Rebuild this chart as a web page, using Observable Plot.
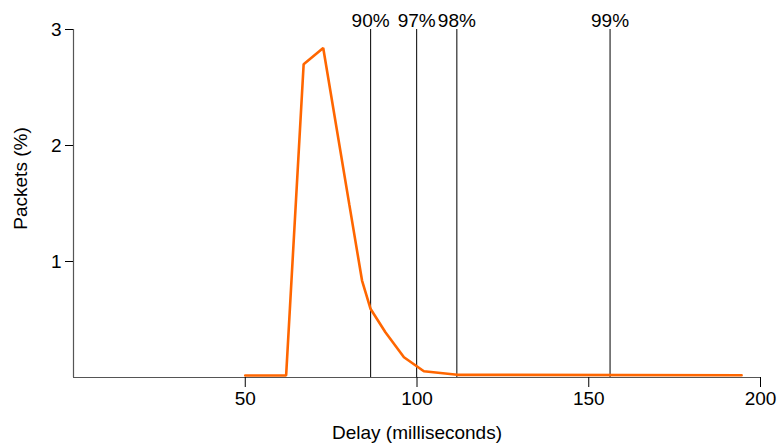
<!DOCTYPE html>
<html>
<head>
<meta charset="utf-8">
<script src="https://cdn.jsdelivr.net/npm/d3@7"></script>
<script src="https://cdn.jsdelivr.net/npm/@observablehq/plot@0.6"></script>
<style>
  html, body { margin: 0; padding: 0; background: #fff; }
  svg { font-family: "Liberation Sans", Arial, Helvetica, sans-serif; }
</style>
</head>
<body>
<div id="chart"></div>
<script>
// Delay distribution (milliseconds vs. % of packets)
const delays  = [50, 61.9, 67.0, 72.7, 80.3, 84.0, 86.5, 90.8, 96.2, 102.0, 111.7, 194.5];
const packets = [0.017, 0.017, 2.70, 2.84, 1.49, 0.836, 0.59, 0.39, 0.175, 0.054, 0.023, 0.02];

// Percentile markers
const pctLabels = ["90%", "97%", "98%", "99%"];
const pctDelays = [86.5, 99.9, 111.6, 156.2];

const xTicks = [50, 100, 150, 200];
const yTicks = [1, 2, 3];

const series = delays.map((d, i) => ({delay: d, packets: packets[i]}));
const pcts = pctLabels.map((l, i) => ({label: l, delay: pctDelays[i]}));

const FS = 19;

const chart = Plot.plot({
  width: 783,
  height: 447,
  marginLeft: 73,
  marginRight: 23,
  marginTop: 29,
  marginBottom: 70,
  style: {fontFamily: '"Liberation Sans", Arial, Helvetica, sans-serif', fontSize: FS + "px", color: "#000", background: "#fff"},
  x: {domain: [0, 200]},
  y: {domain: [0, 3]},
  marks: [
    Plot.ruleX(pcts, {x: "delay", stroke: "#000", strokeWidth: 1}),
    Plot.text(pcts, {x: "delay", y: () => 3, text: "label", fontSize: FS, lineAnchor: "bottom", textAnchor: "middle", dy: -3, fill: "#000"}),
    Plot.ruleY([0], {stroke: "#555", strokeWidth: 1.2}),
    Plot.ruleX([0], {stroke: "#555", strokeWidth: 1.2}),
    Plot.axisX({ticks: xTicks, tickSize: 10, tickPadding: 4, fontSize: FS, label: null, stroke: "#000", tickFormat: d => String(d)}),
    Plot.axisY({ticks: yTicks, tickSize: 8, tickPadding: 4, fontSize: FS, label: null, stroke: "#000", tickFormat: d => String(d)}),
    Plot.text(["Delay (milliseconds)"], {frameAnchor: "bottom", textAnchor: "middle", lineAnchor: "middle", dy: 55, fontSize: FS, fill: "#000"}),
    Plot.text(["Packets (%)"], {frameAnchor: "left", textAnchor: "middle", lineAnchor: "middle", rotate: -90, dx: -53, dy: -25, fontSize: FS, fill: "#000"}),
    Plot.line(series, {x: "delay", y: "packets", stroke: "#ff6600", strokeWidth: 2.6, strokeLinejoin: "miter"})
  ]
});
document.getElementById("chart").appendChild(chart);
</script>
</body>
</html>
